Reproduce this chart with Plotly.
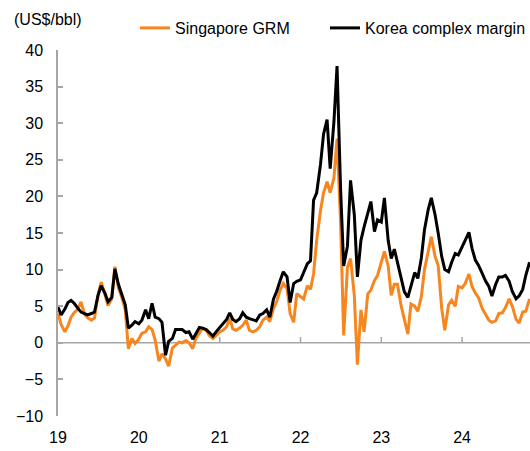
import pandas as pd
import plotly.graph_objects as go

# ----------------------------
# Datos (quincenales, ene-2019 a nov-2024)
# ----------------------------
singapore_grm = [
    4.0, 2.5, 1.5, 2.3, 3.5, 4.1, 4.6, 5.6, 3.9, 3.4, 3.1, 3.4,
    6.5, 8.3, 6.6, 5.1, 6.0, 10.4, 7.5, 6.3, 4.5, -0.8, 0.6, -0.1,
    0.5, 1.3, 1.5, 2.2, 1.8, 0.4, -2.5, -1.5, -2.2, -3.2, -0.7, -0.3,
    0.1, 0.0, 0.3, 0.0, -0.8, 0.6, 1.3, 2.0, 1.7, 1.0, 0.6, 1.0,
    1.5, 1.7, 2.2, 3.3, 1.9, 1.7, 2.0, 2.4, 3.1, 1.7, 1.5, 1.7,
    2.2, 3.1, 3.5, 2.9, 4.7, 5.6, 7.2, 8.1, 7.4, 4.0, 2.8, 6.7,
    6.3, 6.0, 7.8, 7.3, 9.4, 14.0, 18.0, 20.5, 22.0, 20.5, 22.5, 27.9,
    16.5, 1.0, 10.3, 11.5, 6.5, -3.0, 4.5, 1.5, 6.7, 7.2, 8.5, 9.2,
    11.0, 12.5, 10.5, 6.5, 8.0, 8.0, 5.0, 3.0, 1.2, 5.3, 5.0, 4.3,
    6.3, 10.0, 12.7, 14.5, 11.8, 10.6, 4.7, 1.7, 5.2, 5.8, 5.0, 7.7,
    7.5, 8.1, 9.4, 7.7, 6.8, 6.2, 4.7, 4.0, 3.1, 2.8, 3.0, 4.0,
    4.1, 4.8, 6.0, 5.0, 3.2, 2.7, 4.2, 4.3, 6.0,
]

korea_margin = [
    4.9, 3.8, 4.6, 5.5, 5.8, 5.4, 4.7, 4.2, 4.0, 3.8, 4.0, 4.2,
    6.5, 7.8, 6.8, 5.6, 6.2, 10.1, 8.0, 6.6, 5.2, 2.0, 2.4, 2.9,
    2.6, 3.1, 4.5, 3.3, 5.4, 3.5, 3.3, 2.8, -1.7, 0.2, 0.6, 1.8,
    1.8, 1.8, 1.4, 1.5, 0.5, 1.3, 2.1, 2.0, 1.8, 1.4, 0.9, 1.5,
    2.1, 2.5, 3.2, 4.1, 3.2, 2.9, 3.3, 4.1, 3.5, 3.3, 3.1, 3.0,
    3.8, 4.0, 4.5, 3.5, 6.0, 7.0, 8.5, 9.7, 9.0, 5.5, 8.1, 8.4,
    8.6, 9.5, 10.8, 11.2, 19.5, 20.5, 24.3, 28.5, 30.5, 23.8, 30.2, 37.8,
    21.0, 10.5, 13.2, 22.2, 17.5, 9.0, 14.0, 15.8, 17.7, 19.3, 15.2, 16.8,
    16.5, 19.8, 14.0, 11.5, 12.8, 11.0, 9.0, 7.0, 6.2, 7.8, 9.6, 8.8,
    11.6, 15.4, 18.2, 19.8, 17.5, 15.0, 11.8, 10.0, 9.7, 11.0, 12.2, 12.0,
    13.2, 14.0, 15.1, 12.9, 11.3, 10.6, 9.5, 8.5, 7.7, 6.4, 8.0, 9.0,
    9.0, 9.2, 8.4, 7.0, 6.0, 6.4, 7.3, 9.2, 11.0,
]

fechas = pd.date_range('2019-01-01', periods=len(korea_margin), freq='SMS')

anios = ['2019-01-01', '2020-01-01', '2021-01-01', '2022-01-01', '2023-01-01', '2024-01-01']
etiquetas_anio = ['19', '20', '21', '22', '23', '24']

x_fin = '2024-11-03'
gris = '#A6A6A6'
naranja = '#F7861E'

# ----------------------------
# Grafico
# ----------------------------
fig = go.Figure()

fig.add_trace(go.Scatter(x=fechas, y=singapore_grm, mode='lines', name='Singapore GRM',
                         line=dict(color=naranja, width=3), legend='legend'))
fig.add_trace(go.Scatter(x=fechas, y=korea_margin, mode='lines', name='Korea complex margin',
                         line=dict(color='black', width=3), legend='legend2'))

# linea del cero con marcas de anio hacia arriba
fig.add_shape(type='line', xref='x', yref='y', x0=anios[0], x1=x_fin, y0=0, y1=0,
              line=dict(color=gris, width=1.5), layer='below')
for a in anios[1:]:
    fig.add_shape(type='line', xref='x', yref='y', x0=a, x1=a, y0=0, y1=0.8,
                  line=dict(color=gris, width=1.5), layer='below')

fig.add_annotation(text='(US$/bbl)', xref='paper', yref='paper', x=-0.0975, y=1.082,
                   xanchor='left', yanchor='middle', showarrow=False,
                   font=dict(size=16, color='black'))

leyenda = dict(orientation='h', xref='container', yref='container',
               y=1 - 28 / 451, xanchor='left', yanchor='middle',
               font=dict(size=16), bgcolor='rgba(0,0,0,0)', borderwidth=0)

fig.update_layout(
    template='none',
    width=530, height=451,
    margin=dict(l=58, r=0, t=50, b=35, autoexpand=False),
    plot_bgcolor='white', paper_bgcolor='white',
    font=dict(family='Liberation Sans, Arial, sans-serif', size=16, color='black'),
    showlegend=True,
    legend=dict(leyenda, x=135 / 530),
    legend2=dict(leyenda, x=325 / 530),
)

fig.update_xaxes(range=[anios[0], x_fin], tickvals=anios, ticktext=etiquetas_anio,
                 showgrid=False, zeroline=False, showline=False, ticks='',
                 automargin=False, ticklabelstandoff=10)
fig.update_yaxes(range=[-10, 40], dtick=5, showgrid=False, zeroline=False,
                 showline=True, linecolor=gris, linewidth=1.5,
                 ticks='inside', ticklen=5, tickcolor=gris, tickwidth=1.5,
                 automargin=False, ticklabelstandoff=10)

# quitar el margen del body para que la figura ocupe toda la ventana
fig.write_html('out.html', config={'displayModeBar': False},
               post_script="document.body.style.margin = '0';")
